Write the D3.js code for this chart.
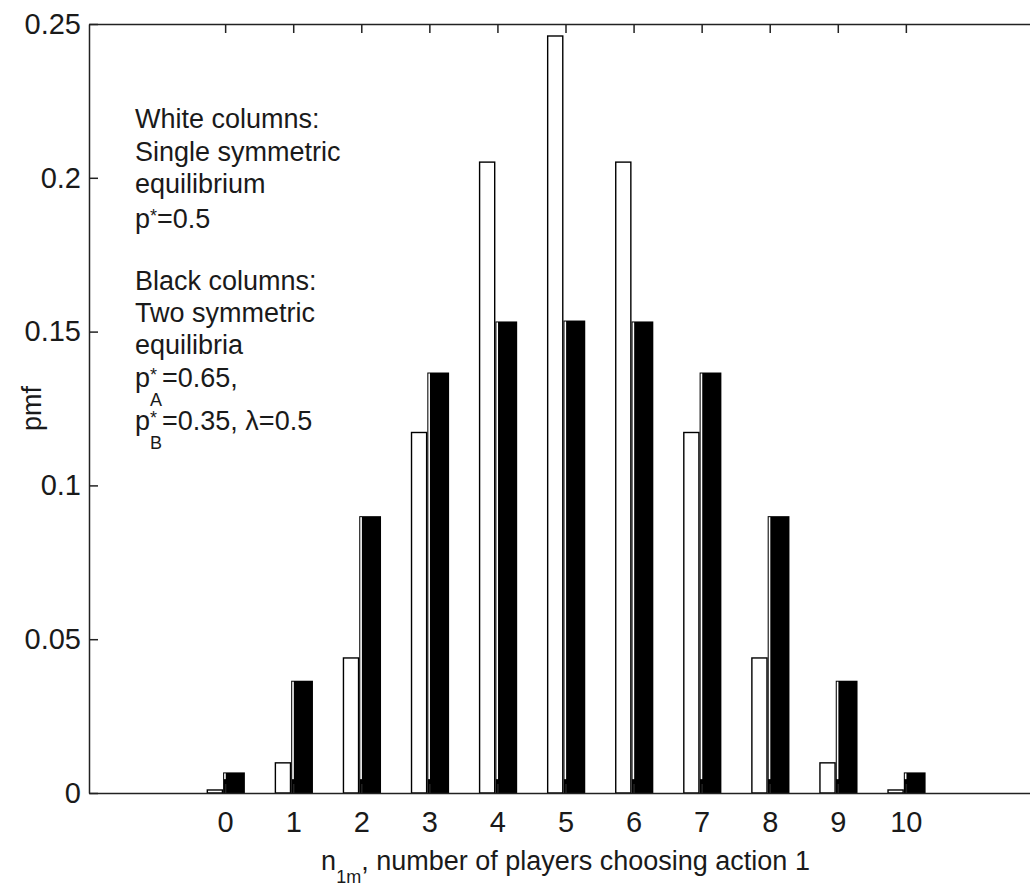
<!DOCTYPE html>
<html>
<head>
<meta charset="utf-8">
<script src="https://cdn.jsdelivr.net/npm/d3@7"></script>
<style>
  html, body { margin: 0; padding: 0; background: #fff; }
  svg { display: block; }
  text { font-family: "Liberation Sans", Arial, Helvetica, sans-serif; fill: #1a1a1a; }
</style>
</head>
<body>
<svg id="chart" width="1030" height="886"></svg>
<script>
// ---- data ----
const categories = [0, 1, 2, 3, 4, 5, 6, 7, 8, 9, 10];
const whiteCols = [0.00098, 0.0098, 0.0439, 0.1172, 0.2051, 0.2461, 0.2051, 0.1172, 0.0439, 0.0098, 0.00098];
const blackCols = [0.0067, 0.0365, 0.0900, 0.1367, 0.1533, 0.1536, 0.1533, 0.1367, 0.0900, 0.0365, 0.0067];
const yTicks = [0, 0.05, 0.1, 0.15, 0.2, 0.25];
const yTickLabels = ["0", "0.05", "0.1", "0.15", "0.2", "0.25"];
const xTickLabels = ["0", "1", "2", "3", "4", "5", "6", "7", "8", "9", "10"];
const xDomain = [-2, 12];
const yDomain = [0, 0.25];
const yLabel = "pmf";
const xLabelParts = [{t: "n"}, {t: "1m", sub: true}, {t: ", number of players choosing action 1"}];
const noteLines = [
  [{t: "White columns:"}],
  [{t: "Single symmetric"}],
  [{t: "equilibrium"}],
  [{t: "p"}, {t: "*", sup: true}, {t: "=0.5"}],
  [{t: "Black columns:"}],
  [{t: "Two symmetric"}],
  [{t: "equilibria"}],
  [{t: "p"}, {t: "*", sup: true}, {t: "A", sub: true, stack: true}, {t: "=0.65,"}],
  [{t: "p"}, {t: "*", sup: true}, {t: "B", sub: true, stack: true}, {t: "=0.35, λ=0.5"}]
];
const noteBaselines = [128, 161, 193, 228, 290, 322, 354, 387, 430];

// ---- layout ----
const mLeft = 89, mRight = 1042, mTop = 24, mBottom = 793;
const svg = d3.select("#chart");
svg.append("rect").attr("width", 1030).attr("height", 886).attr("fill", "#fff");

const x = d3.scaleLinear().domain(xDomain).range([mLeft, mRight]);
const y = d3.scaleLinear().domain(yDomain).range([mBottom, mTop]);

const FS = 27, SFS = 18, TICKFS = 29;

// ---- bars ----
const bars = svg.append("g");
bars.selectAll("rect.white").data(categories).join("rect")
  .attr("class", "white")
  .attr("x", d => x(d - 0.262))
  .attr("width", d => x(d - 0.04) - x(d - 0.262))
  .attr("y", (d, i) => y(whiteCols[i]))
  .attr("height", (d, i) => y(0) - y(whiteCols[i]))
  .attr("fill", "#fff").attr("stroke", "#000").attr("stroke-width", 1.4);

bars.selectAll("rect.black").data(categories).join("rect")
  .attr("class", "black")
  .attr("x", d => x(d - 0.03))
  .attr("width", d => x(d + 0.29) - x(d - 0.03))
  .attr("y", (d, i) => y(blackCols[i]))
  .attr("height", (d, i) => y(0) - y(blackCols[i]))
  .attr("fill", "#000");

// thin light seam visible inside the black columns
bars.selectAll("rect.seam").data(categories).join("rect")
  .attr("class", "seam")
  .attr("x", d => x(d) - 1)
  .attr("width", 1.6)
  .attr("y", (d, i) => y(blackCols[i]) + 1)
  .attr("height", (d, i) => Math.max(0, y(0.0045) - y(blackCols[i]) - 1))
  .attr("fill", "#fff");

// ---- axes ----
const axisStyle = g => {
  g.selectAll("path.domain").attr("stroke", "#222").attr("stroke-width", 1.5);
  g.selectAll(".tick line").attr("stroke", "#222").attr("stroke-width", 1.5);
  g.selectAll(".tick text").attr("font-size", TICKFS).attr("fill", "#1a1a1a")
    .attr("font-family", "Liberation Sans, Arial, sans-serif");
};

svg.append("g").attr("transform", `translate(0,${mBottom})`)
  .call(d3.axisBottom(x).tickValues(categories).tickFormat((d, i) => xTickLabels[i])
    .tickSizeInner(-9).tickSizeOuter(0).tickPadding(18))
  .call(axisStyle);

svg.append("g").attr("transform", `translate(0,${mTop})`)
  .call(d3.axisTop(x).tickValues(categories).tickFormat("")
    .tickSizeInner(-9).tickSizeOuter(0))
  .call(axisStyle);

svg.append("g").attr("transform", `translate(${mLeft},0)`)
  .call(d3.axisLeft(y).tickValues(yTicks).tickFormat((d, i) => yTickLabels[i])
    .tickSizeInner(-9).tickSizeOuter(0).tickPadding(8))
  .call(axisStyle);

svg.append("g").attr("transform", `translate(${mRight},0)`)
  .call(d3.axisRight(y).tickValues(yTicks).tickFormat("")
    .tickSizeInner(-9).tickSizeOuter(0))
  .call(axisStyle);

// ---- rich text helper ----
function drawRich(g, x0, y0, parts, center, subDrop) {
  const nodes = [];
  let cx = 0, prevX = 0;
  parts.forEach(p => {
    const size = (p.sub || p.sup) ? SFS : FS;
    const dy = p.sub ? (p.stack ? subDrop + 6 : subDrop) : (p.sup ? -6 : 0);
    const startX = p.stack ? prevX : cx;
    const t = g.append("text").attr("y", y0 + dy).attr("font-size", size).text(p.t);
    const w = t.node().getComputedTextLength();
    nodes.push([t, startX]);
    cx = p.stack ? Math.max(cx, startX + w) : startX + w;
    prevX = startX;
  });
  const off = center ? x0 - cx / 2 : x0;
  nodes.forEach(([t, sx]) => t.attr("x", off + sx));
}

// ---- annotation ----
const note = svg.append("g");
noteLines.forEach((line, i) => drawRich(note, 135, noteBaselines[i], line, false, 13));

// ---- x label ----
drawRich(svg.append("g"), (mLeft + mRight) / 2, 870, xLabelParts, true, 13);

// ---- y label ----
svg.append("text")
  .attr("transform", `translate(41,${(mTop + mBottom) / 2}) rotate(-90)`)
  .attr("text-anchor", "middle")
  .attr("font-size", FS)
  .text(yLabel);
</script>
</body>
</html>
